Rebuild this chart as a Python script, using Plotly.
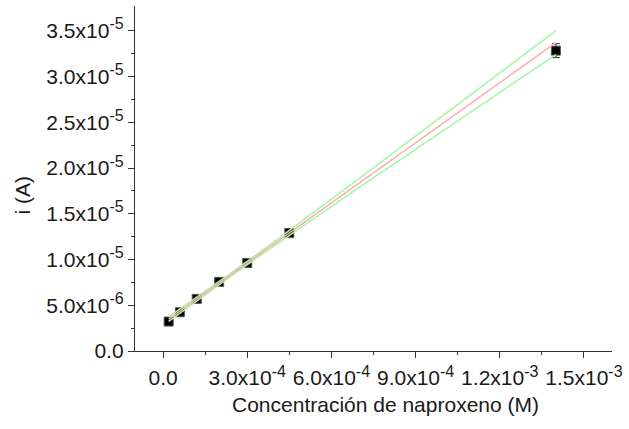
import plotly.graph_objects as go

# Data
conc = [2.0e-5, 6.0e-5, 1.2e-4, 2.0e-4, 3.0e-4, 4.5e-4, 1.4e-3]
current = [3.22e-6, 4.24e-6, 5.70e-6, 7.56e-6, 9.63e-6, 1.291e-5, 3.285e-5]
current_err = [1.0e-7, 1.0e-7, 1.0e-7, 1.0e-7, 1.0e-7, 1.0e-7, 7.6e-7]

# Linear fit
fit_x = [2.0e-5, 1.4e-3]
fit_y = [3.49e-6, 3.372e-5]

# Confidence band
band_x = [2.0e-5, 1.2e-4, 2.4e-4, 3.6e-4, 5.0e-4, 7.0e-4, 9.0e-4, 1.15e-3, 1.4e-3]
band_upper = [3.74e-6, 5.88e-6, 8.49e-6, 1.114e-5, 1.429e-5, 1.887e-5, 2.349e-5, 2.925e-5, 3.503e-5]
band_lower = [3.24e-6, 5.48e-6, 8.13e-6, 1.074e-5, 1.373e-5, 1.791e-5, 2.205e-5, 2.725e-5, 3.242e-5]


def sci(m, e):
    return f"{m}x10<sup><span style='font-size:16px'>{e}</span></sup>"


# Tick labels
x_tickvals = [0.0, 3.0e-4, 6.0e-4, 9.0e-4, 1.2e-3, 1.5e-3]
x_ticktext = ["0.0", sci("3.0", "-4"), sci("6.0", "-4"), sci("9.0", "-4"),
              sci("1.2", "-3"), sci("1.5", "-3")]
x_minor = [1.5e-4, 4.5e-4, 7.5e-4, 1.05e-3, 1.35e-3]
y_tickvals = [0.0, 5.0e-6, 1.0e-5, 1.5e-5, 2.0e-5, 2.5e-5, 3.0e-5, 3.5e-5]
y_ticktext = ["0.0", sci("5.0", "-6"), sci("1.0", "-5"), sci("1.5", "-5"),
              sci("2.0", "-5"), sci("2.5", "-5"), sci("3.0", "-5"), sci("3.5", "-5")]
y_minor = [2.5e-6, 7.5e-6, 1.25e-5, 1.75e-5, 2.25e-5, 2.75e-5, 3.25e-5]

fig = go.Figure()
fig.add_trace(go.Scatter(
    x=conc, y=current, mode="markers",
    marker=dict(symbol="square", size=9, color="#000000", line=dict(color="#555555", width=1)),
    error_y=dict(type="data", array=current_err, color="#333333", thickness=1, width=4),
    showlegend=False))
fig.add_trace(go.Scatter(x=band_x, y=band_upper, mode="lines",
                         line=dict(color="#a6f5a6", width=1.5), showlegend=False))
fig.add_trace(go.Scatter(x=band_x, y=band_lower, mode="lines",
                         line=dict(color="#a6f5a6", width=1.5), showlegend=False))
fig.add_trace(go.Scatter(x=fit_x, y=fit_y, mode="lines",
                         line=dict(color="#ffaaaa", width=1.5), showlegend=False))

font_family = "Liberation Sans, Arial, sans-serif"
axis_common = dict(ticks="outside", ticklen=6, tickwidth=1.3, tickcolor="#333333",
                   showline=True, linecolor="#333333", linewidth=1.3, showgrid=False,
                   zeroline=False, tickfont=dict(size=21))
fig.update_layout(
    width=629, height=429,
    margin=dict(l=135, r=14, t=6, b=77.5),
    plot_bgcolor="white", paper_bgcolor="white",
    font=dict(family=font_family, size=21, color="#1a1a1a"),
    xaxis=dict(range=[-1.0e-4, 1.6e-3], tickmode="array", tickvals=x_tickvals, ticktext=x_ticktext,
               minor=dict(tickmode="array", tickvals=x_minor, ticks="outside", ticklen=3,
                          tickwidth=1.3, tickcolor="#333333", showgrid=False),
               ticklabelstandoff=2, **axis_common),
    yaxis=dict(range=[0, 3.773e-5], tickmode="array", tickvals=y_tickvals, ticktext=y_ticktext,
               minor=dict(tickmode="array", tickvals=y_minor, ticks="outside", ticklen=3,
                          tickwidth=1.3, tickcolor="#333333", showgrid=False),
               **axis_common),
)

# axis titles placed as annotations at page positions
pw = 629 - 135 - 14
ph = 429 - 6 - 77.5
fig.add_annotation(text="Concentración de naproxeno (M)", x=(387.5 - 135) / pw, y=(351.5 - 405) / ph,
                   xref="paper", yref="paper", showarrow=False, xanchor="center", yanchor="middle",
                   font=dict(size=21))
fig.add_annotation(text="i (A)", x=(22 - 135) / pw, y=(351.5 - 195) / ph, xref="paper", yref="paper",
                   showarrow=False, textangle=-90, xanchor="center", yanchor="middle",
                   font=dict(size=21))

fig.write_html("out.html")
